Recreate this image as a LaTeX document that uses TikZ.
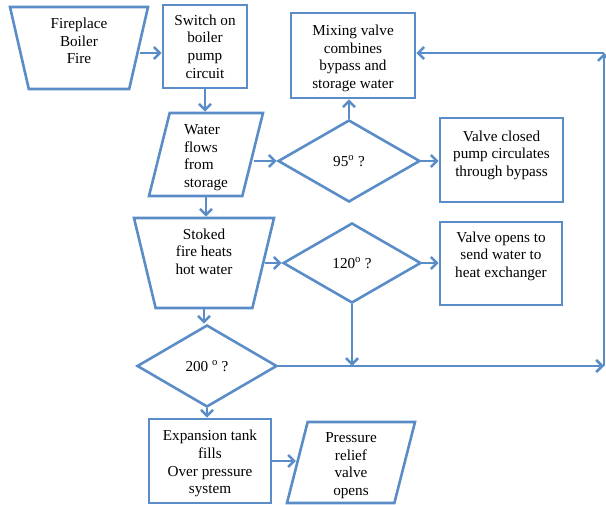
\documentclass[tikz,border=0pt]{standalone}
\usepackage{fontspec}
\setmainfont{Liberation Serif}
\usetikzlibrary{shapes.geometric,arrows.meta}
\definecolor{azul}{RGB}{90,141,200}
\newcommand{\bajar}{\rule{0pt}{16pt}}
\tikzset{
  caja/.style={draw=azul, line width=2.6pt, rectangle, inner sep=0pt, align=center,
    font=\fontsize{15.2}{17.6}\selectfont},
  rombo/.style={caja, diamond},
  horno/.style={caja, trapezium, shape border rotate=180, trapezium angle=72.5,
    trapezium stretches body},
  datos/.style={caja, trapezium, trapezium left angle=74, trapezium right angle=106,
    trapezium stretches body},
  flecha/.style={draw=azul, line width=2.6pt, -{Straight Barb[length=6pt,width=12pt]}},
}
\begin{document}
\begin{tikzpicture}[x=1pt,y=-1pt]
  \useasboundingbox (0,0) rectangle (606,505);

  % Dibujar las cajas
  \node[horno, minimum width=138pt, minimum height=82pt] (fire) at (79,48) {Fireplace\\Boiler\\Fire\\[-9pt]\strut};
  \node[caja, minimum width=84pt, minimum height=83pt] (switch) at (205,46.5) {Switch on\\boiler\\pump\\circuit};
  \node[datos, minimum width=114pt, minimum height=83pt, align=left] (water) at (206,154.5) {\bajar Water\\flows\\from\\storage};
  \node[caja, minimum width=124pt, minimum height=85pt] (mix) at (353,55.5) {\bajar Mixing valve\\combines\\bypass and\\storage water};
  \node[caja, minimum width=123pt, minimum height=84pt] (closed) at (501.5,160) {Valve closed\\pump circulates\\through bypass\\[-10pt]\strut};
  \node[horno, minimum width=140pt, minimum height=90pt] (stoked) at (204,263) {Stoked\\fire heats\\hot water\\\strut};
  \node[caja, minimum width=122pt, minimum height=83pt] (opens) at (501,263.5) {Valve opens to\\send water to\\heat exchanger\\[-5pt]\strut};
  \node[caja, minimum width=122pt, minimum height=84pt] (exp) at (210,461) {\bajar Expansion tank\\fills\\Over pressure\\system};
  \node[datos, minimum width=128pt, minimum height=81pt] (press) at (351,462.5) {\bajar Pressure\\relief\\valve\\opens};

  % Dibujar los rombos
  \node[rombo, minimum width=142pt, minimum height=82pt] (d95) at (349,161) {95\textsuperscript{o} ?};
  \node[rombo, minimum width=138pt, minimum height=80pt] (d120) at (352,263) {120\textsuperscript{o} ?};
  \node[rombo, minimum width=140pt, minimum height=82pt] (d200) at (207,366) {200 \textsuperscript{o} ?};

  % Esquinas del lado derecho
  \coordinate (rb) at (604,366);
  \coordinate (rt) at (604,53);

  % Dibujar las flechas
  \draw[flecha] ([yshift=-5pt]fire.east) -- ([yshift=-5pt]fire.east -| switch.west);
  \foreach \a/\b in {d95.east/closed.west, stoked.east/d120.west,
      d120.east/opens.west, exp.east/press.west} {
    \draw[flecha] (\a) -- (\a -| \b);
  }
  \foreach \a/\b in {switch.south/water.north, d95.north/mix.south,
      water.south/stoked.north, stoked.south/d200.north,
      d200.south/exp.north, d120.south/d200.east} {
    \draw[flecha] (\a) -- (\a |- \b);
  }
  \draw[flecha] (water.east |- d95.west) -- (d95.west);
  \draw[flecha] (d200.east) -- (rb);
  \draw[flecha] (rb) -- (rt);
  \draw[flecha] (rt) -- (rt -| mix.east);
\end{tikzpicture}
\end{document}
